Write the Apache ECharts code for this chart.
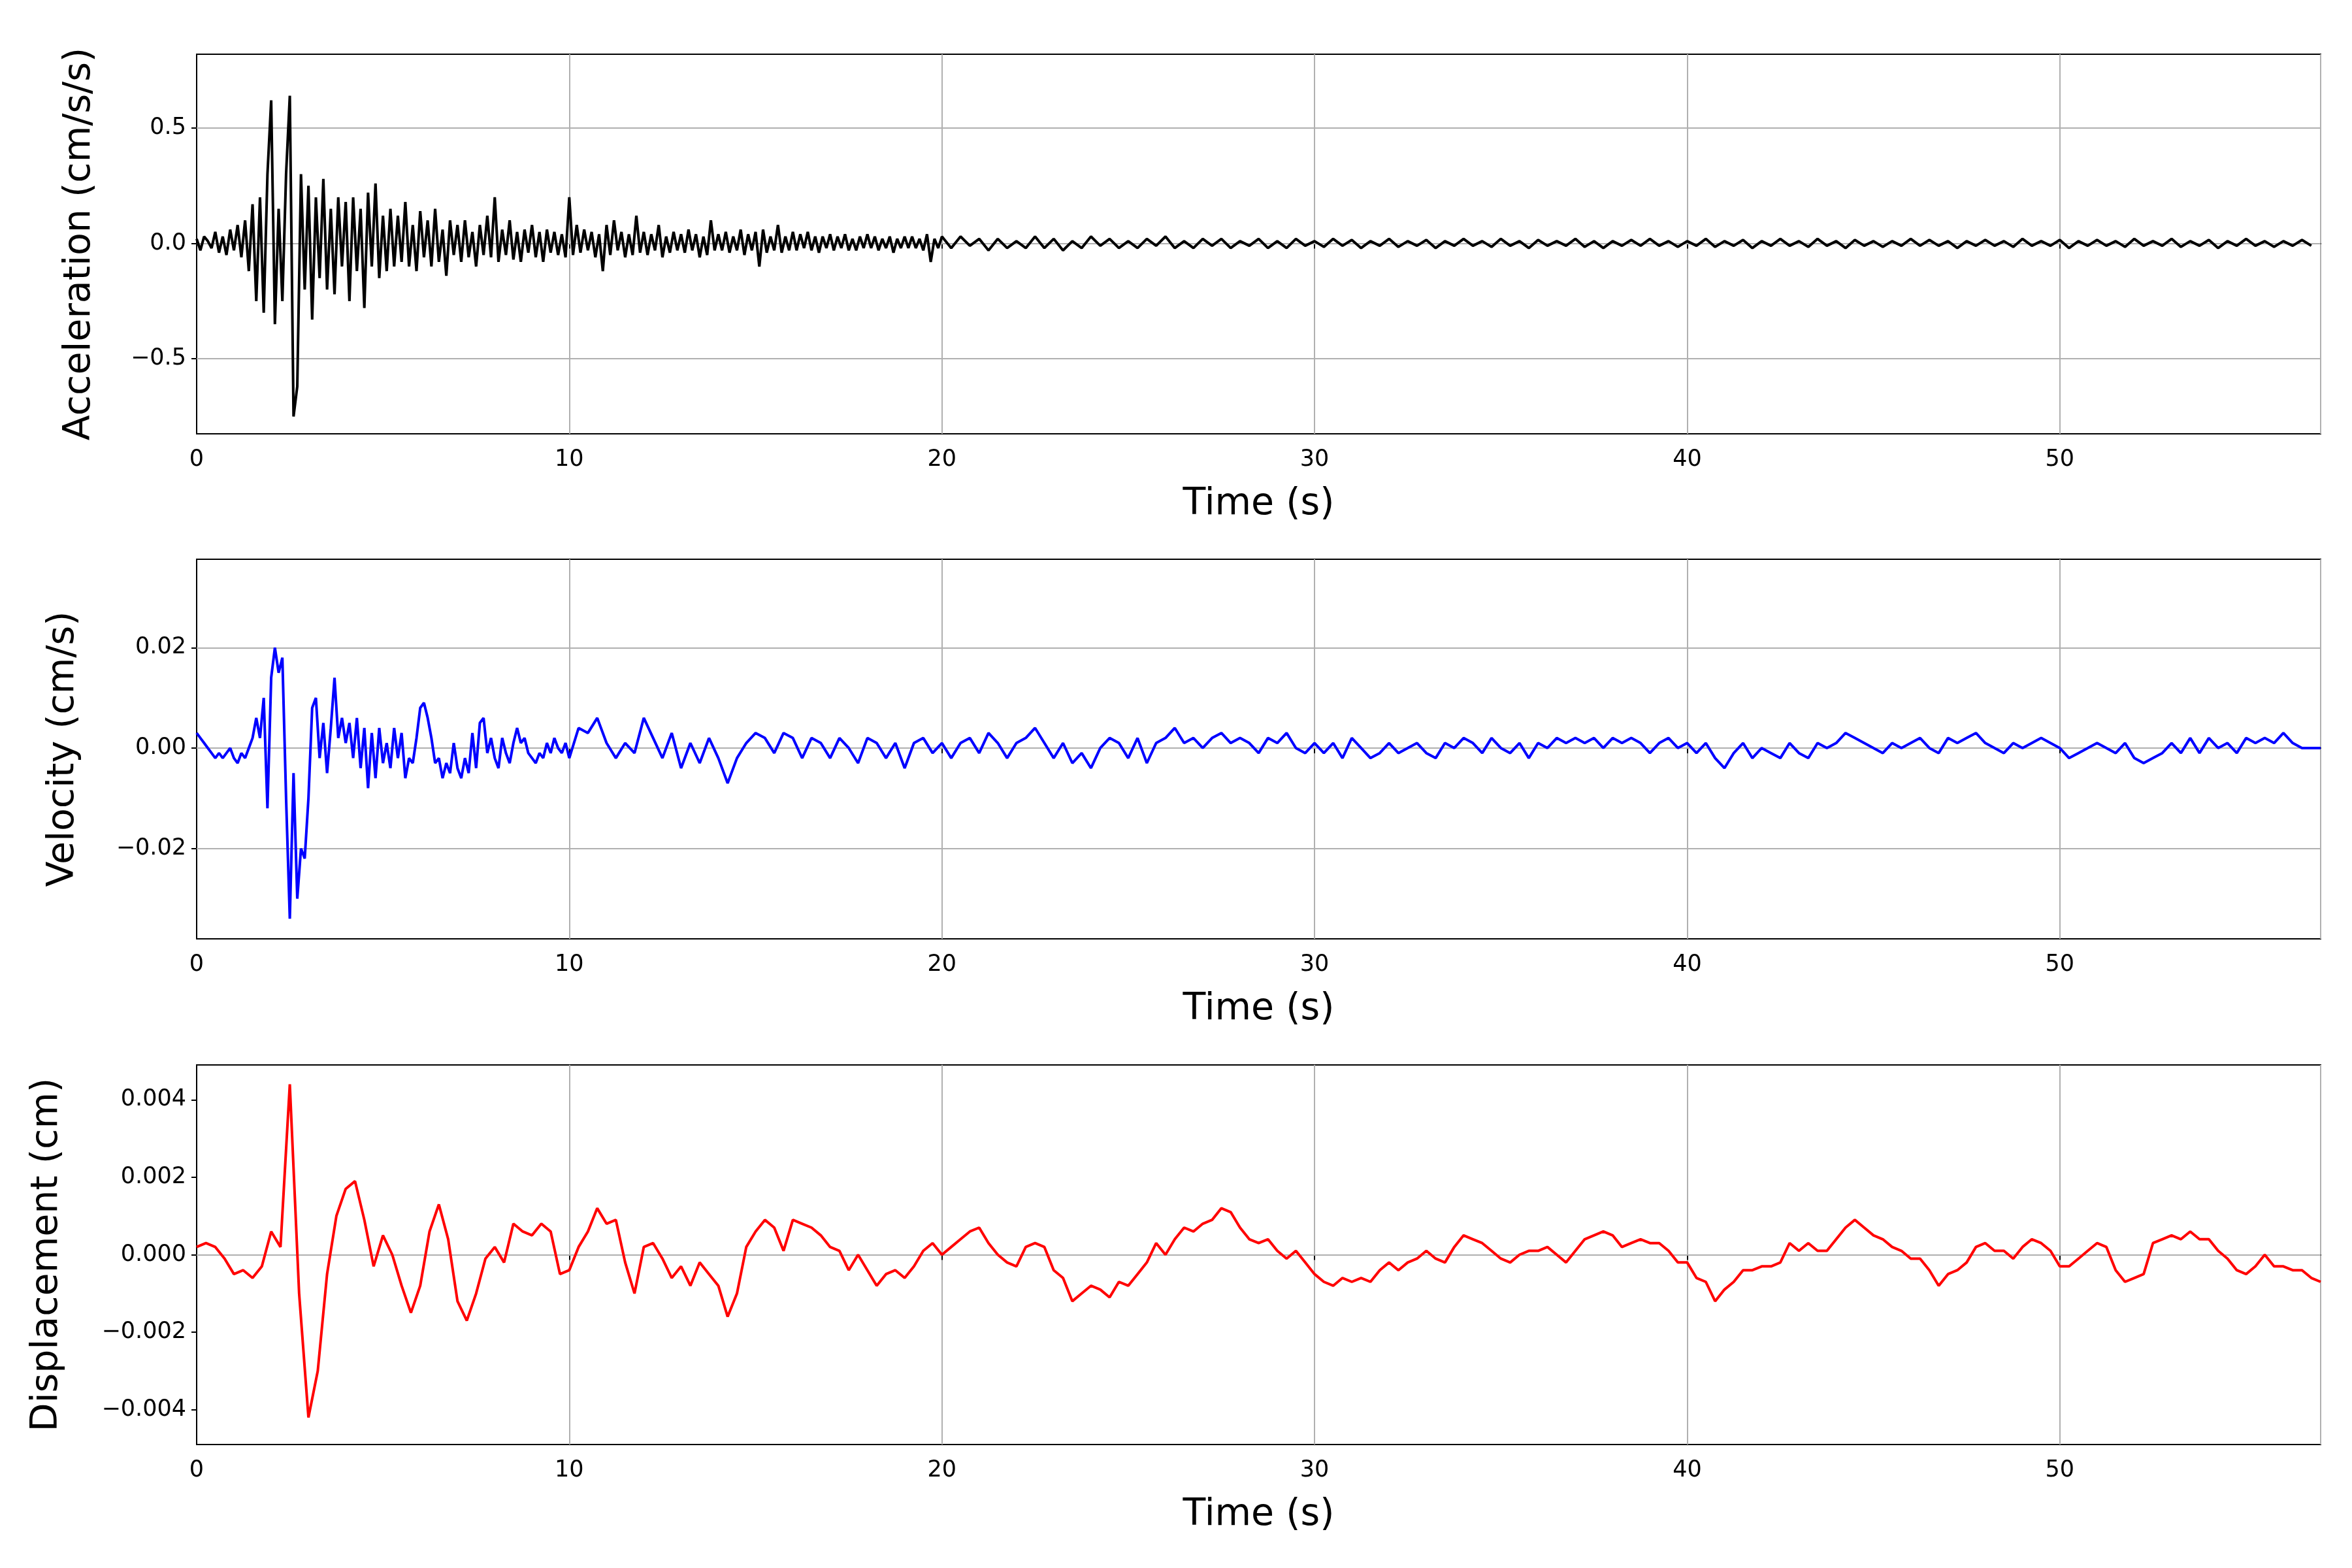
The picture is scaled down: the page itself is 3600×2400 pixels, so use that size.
<!DOCTYPE html>
<html><head><meta charset="utf-8">
<script src="https://cdn.jsdelivr.net/npm/echarts@6/dist/echarts.min.js"></script>
<style>html,body{margin:0;padding:0;background:#fff}#c{width:3600px;height:2400px}</style>
</head><body><div id="c"></div>
<script>
// Acceleration: 0..20 s at 0.1 s, then 20.25..57 at 0.25 s
const accEarly = [0.02,-0.03,0.03,0.01,-0.02,0.05,-0.04,0.03,-0.05,0.06,-0.03,
0.08,-0.06,0.1,-0.12,0.17,-0.25,0.2,-0.3,0.3,0.62,
-0.35,0.15,-0.25,0.3,0.64,-0.75,-0.62,0.3,-0.2,0.25,
-0.33,0.2,-0.15,0.28,-0.2,0.15,-0.22,0.2,-0.1,0.18,
-0.25,0.2,-0.12,0.15,-0.28,0.22,-0.1,0.26,-0.15,0.12,
-0.12,0.15,-0.1,0.12,-0.08,0.18,-0.1,0.08,-0.12,0.14,
-0.06,0.1,-0.1,0.15,-0.08,0.06,-0.14,0.1,-0.05,0.08,
-0.08,0.1,-0.06,0.05,-0.1,0.08,-0.05,0.12,-0.06,0.2,
-0.08,0.06,-0.05,0.1,-0.07,0.05,-0.08,0.06,-0.04,0.08,
-0.06,0.05,-0.08,0.06,-0.04,0.05,-0.05,0.04,-0.06,0.2,
-0.05,0.08,-0.04,0.06,-0.03,0.05,-0.06,0.04,-0.12,0.08,
-0.05,0.1,-0.03,0.05,-0.06,0.04,-0.05,0.12,-0.04,0.05,
-0.05,0.04,-0.03,0.08,-0.06,0.03,-0.04,0.05,-0.03,0.04,
-0.04,0.06,-0.03,0.04,-0.06,0.03,-0.05,0.1,-0.03,0.04,
-0.03,0.05,-0.04,0.03,-0.03,0.06,-0.05,0.04,-0.03,0.05,
-0.1,0.06,-0.04,0.03,-0.03,0.08,-0.04,0.03,-0.03,0.05,
-0.03,0.04,-0.02,0.05,-0.03,0.03,-0.04,0.03,-0.02,0.04,
-0.03,0.03,-0.02,0.04,-0.03,0.02,-0.03,0.03,-0.02,0.04,
-0.02,0.03,-0.03,0.02,-0.02,0.03,-0.04,0.02,-0.02,0.03,
-0.02,0.03,-0.02,0.02,-0.03,0.04,-0.08,0.02,-0.02,0.03];
const accLate = [-0.02,0.03,-0.01,0.02,-0.03,0.02,-0.02,0.01,-0.02,0.03,
-0.02,0.02,-0.03,0.01,-0.02,0.03,-0.01,0.02,-0.02,0.01,
-0.02,0.02,-0.01,0.03,-0.02,0.01,-0.02,0.02,-0.01,0.02,
-0.02,0.01,-0.01,0.02,-0.02,0.01,-0.02,0.02,-0.01,0.01,
-0.015,0.02,-0.01,0.015,-0.02,0.01,-0.01,0.02,-0.015,0.01,
-0.01,0.015,-0.02,0.01,-0.01,0.02,-0.01,0.01,-0.015,0.02,
-0.01,0.01,-0.02,0.015,-0.01,0.01,-0.01,0.02,-0.015,0.01,
-0.02,0.01,-0.01,0.015,-0.01,0.02,-0.01,0.01,-0.015,0.01,
-0.01,0.02,-0.015,0.01,-0.01,0.015,-0.02,0.01,-0.01,0.02,
-0.01,0.01,-0.015,0.02,-0.01,0.01,-0.02,0.015,-0.01,0.01,
-0.015,0.01,-0.01,0.02,-0.01,0.015,-0.01,0.01,-0.02,0.01,
-0.01,0.015,-0.01,0.01,-0.015,0.02,-0.01,0.01,-0.01,0.015,
-0.02,0.01,-0.01,0.015,-0.01,0.01,-0.015,0.02,-0.01,0.01,
-0.01,0.02,-0.015,0.01,-0.01,0.015,-0.02,0.01,-0.01,0.02,
-0.01,0.01,-0.015,0.01,-0.01,0.015,-0.01];
// Velocity: 0..10 s at 0.1 s, then 10.25..57 at 0.25 s
const velEarly = [0.003,0.002,0.001,0,-0.001,-0.002,-0.001,-0.002,-0.001,0,-0.002,
-0.003,-0.001,-0.002,0,0.002,0.006,0.002,0.01,-0.012,0.014,
0.02,0.015,0.018,-0.01,-0.034,-0.005,-0.03,-0.02,-0.022,-0.01,
0.008,0.01,-0.002,0.005,-0.005,0.004,0.014,0.002,0.006,0.001,
0.005,-0.002,0.006,-0.004,0.004,-0.008,0.003,-0.006,0.004,-0.003,
0.001,-0.004,0.004,-0.002,0.003,-0.006,-0.002,-0.003,0.002,0.008,
0.009,0.006,0.002,-0.003,-0.002,-0.006,-0.003,-0.005,0.001,-0.004,
-0.006,-0.002,-0.005,0.003,-0.004,0.005,0.006,-0.001,0.002,-0.002,
-0.004,0.002,-0.001,-0.003,0.001,0.004,0.001,0.002,-0.001,-0.002,
-0.003,-0.001,-0.002,0.001,-0.001,0.002,0,-0.001,0.001,-0.002];
const velLate = [0.004,0.003,0.006,0.001, -0.002,0.001,-0.001,0.006, 0.002,-0.002,0.003,-0.004,
0.001,-0.003,0.002,-0.002, -0.007,-0.002,0.001,0.003, 0.002,-0.001,0.003,0.002,
-0.002,0.002,0.001,-0.002, 0.002,0,-0.003,0.002, 0.001,-0.002,0.001,-0.004,
0.001,0.002,-0.001,0.001, -0.002,0.001,0.002,-0.001, 0.003,0.001,-0.002,0.001,
0.002,0.004,0.001,-0.002, 0.001,-0.003,-0.001,-0.004, 0,0.002,0.001,-0.002,
0.002,-0.003,0.001,0.002, 0.004,0.001,0.002,0, 0.002,0.003,0.001,0.002,
0.001,-0.001,0.002,0.001, 0.003,0,-0.001,0.001, -0.001,0.001,-0.002,0.002,
0,-0.002,-0.001,0.001, -0.001,0,0.001,-0.001, -0.002,0.001,0,0.002,
0.001,-0.001,0.002,0, -0.001,0.001,-0.002,0.001, 0,0.002,0.001,0.002,
0.001,0.002,0,0.002, 0.001,0.002,0.001,-0.001, 0.001,0.002,0,0.001,
-0.001,0.001,-0.002,-0.004, -0.001,0.001,-0.002,0, -0.001,-0.002,0.001,-0.001,
-0.002,0.001,0,0.001, 0.003,0.002,0.001,0, -0.001,0.001,0,0.001,
0.002,0,-0.001,0.002, 0.001,0.002,0.003,0.001, 0,-0.001,0.001,0,
0.001,0.002,0.001,0, -0.002,-0.001,0,0.001, 0,-0.001,0.001,-0.002,
-0.003,-0.002,-0.001,0.001, -0.001,0.002,-0.001,0.002, 0,0.001,-0.001,0.002,
0.001,0.002,0.001,0.003, 0.001,0,0,0];
// Displacement: 0..57 s at 0.25 s
const dispVals = [0.0002,0.0003,0.0002,-0.0001,-0.0005,-0.0004,-0.0006,-0.0003,0.0006,0.0002,0.0044,-0.001,
-0.0042,-0.003,-0.0005,0.001,0.0017,0.0019,0.0009,-0.0003,0.0005,0,-0.0008,-0.0015,
-0.0008,0.0006,0.0013,0.0004,-0.0012,-0.0017,-0.001,-0.0001,0.0002,-0.0002,0.0008,0.0006,
0.0005,0.0008,0.0006,-0.0005,-0.0004,0.0002,0.0006,0.0012,0.0008,0.0009,-0.0002,-0.001,
0.0002,0.0003,-0.0001,-0.0006,-0.0003,-0.0008,-0.0002,-0.0005,-0.0008,-0.0016,-0.001,0.0002,
0.0006,0.0009,0.0007,0.0001,0.0009,0.0008,0.0007,0.0005,0.0002,0.0001,-0.0004,0,
-0.0004,-0.0008,-0.0005,-0.0004,-0.0006,-0.0003,0.0001,0.0003,0,0.0002,0.0004,0.0006,
0.0007,0.0003,0,-0.0002,-0.0003,0.0002,0.0003,0.0002,-0.0004,-0.0006,-0.0012,-0.001,
-0.0008,-0.0009,-0.0011,-0.0007,-0.0008,-0.0005,-0.0002,0.0003,0,0.0004,0.0007,0.0006,
0.0008,0.0009,0.0012,0.0011,0.0007,0.0004,0.0003,0.0004,0.0001,-0.0001,0.0001,-0.0002,
-0.0005,-0.0007,-0.0008,-0.0006,-0.0007,-0.0006,-0.0007,-0.0004,-0.0002,-0.0004,-0.0002,-0.0001,
0.0001,-0.0001,-0.0002,0.0002,0.0005,0.0004,0.0003,0.0001,-0.0001,-0.0002,0,0.0001,
0.0001,0.0002,0,-0.0002,0.0001,0.0004,0.0005,0.0006,0.0005,0.0002,0.0003,0.0004,
0.0003,0.0003,0.0001,-0.0002,-0.0002,-0.0006,-0.0007,-0.0012,-0.0009,-0.0007,-0.0004,-0.0004,
-0.0003,-0.0003,-0.0002,0.0003,0.0001,0.0003,0.0001,0.0001,0.0004,0.0007,0.0009,0.0007,
0.0005,0.0004,0.0002,0.0001,-0.0001,-0.0001,-0.0004,-0.0008,-0.0005,-0.0004,-0.0002,0.0002,
0.0003,0.0001,0.0001,-0.0001,0.0002,0.0004,0.0003,0.0001,-0.0003,-0.0003,-0.0001,0.0001,
0.0003,0.0002,-0.0004,-0.0007,-0.0006,-0.0005,0.0003,0.0004,0.0005,0.0004,0.0006,0.0004,
0.0004,0.0001,-0.0001,-0.0004,-0.0005,-0.0003,0,-0.0003,-0.0003,-0.0004,-0.0004,-0.0006,-0.0007];
const xTicks = [0,10,20,30,40,50];
const accTicks = [-0.5,0,0.5];
const velTicks = [-0.02,0,0.02];
const dispTicks = [-0.004,-0.002,0,0.002,0.004];

const accData = accEarly.map((v,i)=>[i*0.1,v]).concat(accLate.map((v,i)=>[20+(i+1)*0.25,v]));
const velData = velEarly.map((v,i)=>[i*0.1,v]).concat(velLate.map((v,i)=>[10+(i+1)*0.25,v]));
const dispData = dispVals.map((v,i)=>[i*0.25,v]);

const F = 'DejaVu Sans';
const minus = s => String(s).replace('-', '\u2212');
const grids = [{top:83,bottom:2400-664},{top:856,bottom:2400-1437},{top:1630,bottom:2400-2211}]
  .map(g=>Object.assign({left:301,right:48,show:true,borderColor:'#000',borderWidth:2,backgroundColor:'transparent'},g));
function xAx(i){return {gridIndex:i,type:'value',min:0,max:57,interval:10,name:'Time (s)',nameLocation:'middle',nameGap:80,
  nameTextStyle:{fontFamily:F,fontSize:57,color:'#000'},
  axisLine:{show:true,lineStyle:{color:'#000',width:2}},axisTick:{show:true,length:8,lineStyle:{color:'#000',width:2}},
  axisLabel:{fontFamily:F,fontSize:35,color:'#000',margin:22,showMaxLabel:false},
  splitLine:{show:true,lineStyle:{color:'#b0b0b0',width:2}}};}
function yAx(i,min,max,ticks,dec,name,gap){return {gridIndex:i,type:'value',min:min,max:max,name:name,nameLocation:'middle',nameGap:gap,
  nameTextStyle:{fontFamily:F,fontSize:57,color:'#000'},
  axisLine:{show:true,lineStyle:{color:'#000',width:2}},
  axisTick:{show:true,length:8,customValues:ticks,lineStyle:{color:'#000',width:2}},
  axisLabel:{fontFamily:F,fontSize:35,color:'#000',margin:16,customValues:ticks,formatter:v=>minus(v.toFixed(dec))},
  splitLine:{show:false}};}
function gridSeries(i,ticks){return {type:'line',xAxisIndex:i,yAxisIndex:i,data:[],z:1,silent:true,
  markLine:{silent:true,symbol:'none',label:{show:false},lineStyle:{color:'#b0b0b0',width:2,type:'solid'},
  data:ticks.map(t=>({yAxis:t}))}};}
function dataSeries(i,d,c){return {type:'line',xAxisIndex:i,yAxisIndex:i,data:d,showSymbol:false,z:5,
  lineStyle:{color:c,width:4},itemStyle:{color:c}};}
const chart = echarts.init(document.getElementById('c'));
chart.setOption({animation:false,backgroundColor:'#fff',grid:grids,
  xAxis:[xAx(0),xAx(1),xAx(2)],
  yAxis:[yAx(0,-0.825,0.82,accTicks,1,'Acceleration (cm/s/s)',150),
         yAx(1,-0.038,0.0376,velTicks,2,'Velocity (cm/s)',175),
         yAx(2,-0.0049,0.0049,dispTicks,3,'Displacement (cm)',200)],
  series:[gridSeries(0,accTicks),gridSeries(1,velTicks),gridSeries(2,dispTicks),
    dataSeries(0,accData,'#000'),dataSeries(1,velData,'#0000ff'),dataSeries(2,dispData,'#ff0000')]});
</script></body></html>
